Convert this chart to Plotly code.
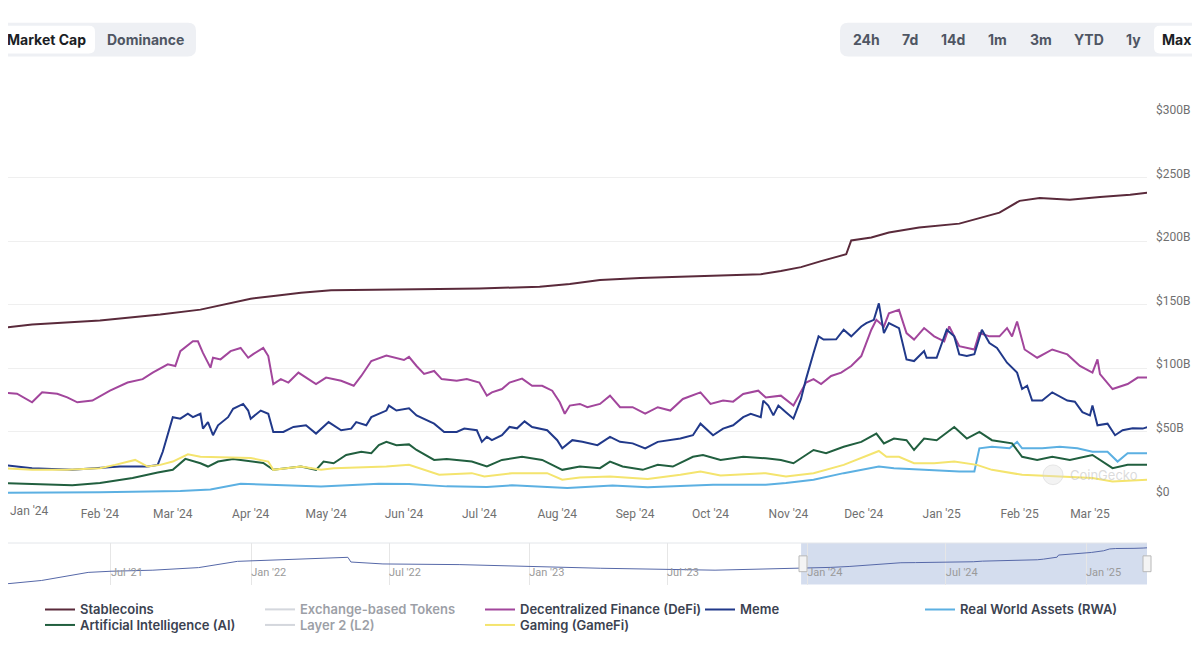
import plotly.graph_objects as go

# ---------------- data ----------------
stable_dates = ["2023-12-24","2024-01-05","2024-02-01","2024-02-25","2024-03-12","2024-03-28","2024-04-01","2024-04-11","2024-04-21","2024-05-03","2024-05-22","2024-06-15","2024-07-01","2024-07-25","2024-08-06","2024-08-18","2024-09-03","2024-09-27","2024-10-21","2024-10-29","2024-11-06","2024-11-14","2024-11-24","2024-11-26","2024-12-04","2024-12-11","2024-12-23","2025-01-08","2025-01-24","2025-02-01","2025-02-09","2025-02-21","2025-03-05","2025-03-17","2025-03-24"]
stable_vals = [131.6,134.5,137.6,142.2,146.1,153.1,154.7,157.0,159.3,161.3,162.0,162.4,162.8,164.0,166.3,169.4,171.0,172.5,174.0,176.4,179.5,184.2,189.6,200.5,202.8,206.7,210.6,213.7,222.3,231.6,233.9,232.4,234.7,236.3,238.0]

defi_dates = ["2023-12-24","2023-12-30","2024-01-05","2024-01-09","2024-01-15","2024-01-19","2024-01-23","2024-01-29","2024-02-05","2024-02-12","2024-02-18","2024-02-22","2024-02-28","2024-03-02","2024-03-04","2024-03-09","2024-03-11","2024-03-13","2024-03-16","2024-03-17","2024-03-20","2024-03-24","2024-03-28","2024-03-31","2024-04-02","2024-04-06","2024-04-08","2024-04-10","2024-04-13","2024-04-16","2024-04-20","2024-04-23","2024-04-27","2024-05-01","2024-05-07","2024-05-12","2024-05-15","2024-05-19","2024-05-25","2024-06-01","2024-06-03","2024-06-06","2024-06-09","2024-06-13","2024-06-16","2024-06-22","2024-06-26","2024-07-01","2024-07-03","2024-07-04","2024-07-06","2024-07-10","2024-07-13","2024-07-18","2024-07-22","2024-07-26","2024-07-30","2024-08-02","2024-08-04","2024-08-06","2024-08-10","2024-08-13","2024-08-18","2024-08-22","2024-08-26","2024-08-31","2024-09-05","2024-09-10","2024-09-15","2024-09-20","2024-09-27","2024-10-01","2024-10-06","2024-10-10","2024-10-14","2024-10-20","2024-10-23","2024-10-29","2024-11-03","2024-11-06","2024-11-08","2024-11-11","2024-11-14","2024-11-18","2024-11-22","2024-11-26","2024-11-30","2024-12-04","2024-12-06","2024-12-09","2024-12-11","2024-12-15","2024-12-18","2024-12-21","2024-12-25","2024-12-29","2025-01-02","2025-01-04","2025-01-08","2025-01-14","2025-01-16","2025-01-20","2025-01-24","2025-01-27","2025-01-29","2025-01-31","2025-02-03","2025-02-08","2025-02-14","2025-02-20","2025-02-25","2025-03-02","2025-03-04","2025-03-05","2025-03-10","2025-03-16","2025-03-20","2025-03-24"]
defi_vals = [81.1,80.0,73.3,81.1,80.0,77.2,73.3,74.6,82.4,88.8,91.5,96.6,103.1,101.8,113.5,121.2,121.2,112.1,100.5,108.3,107.0,113.5,116.0,108.3,111.1,116.0,109.6,87.6,91.5,88.8,96.6,92.7,87.6,92.7,90.2,86.3,94.0,105.7,110.0,106.5,109.0,101.8,95.6,97.9,91.5,90.2,91.5,88.8,81.1,78.5,81.1,83.7,88.8,91.9,86.3,86.3,82.4,73.3,64.3,70.7,72.0,69.4,72.0,78.5,69.4,69.4,64.3,69.4,66.8,75.9,81.1,72.0,74.6,73.8,79.8,82.4,77.0,78.5,70.7,81.1,88.8,91.5,87.6,94.0,96.6,101.8,109.6,130.3,138.1,132.9,143.2,145.9,127.7,122.6,131.6,125.1,121.2,132.9,117.4,114.8,127.7,125.1,125.1,131.6,125.1,136.8,114.8,108.3,114.8,110.9,101.8,96.6,107.0,95.4,83.7,87.6,92.7,92.7]

meme_dates = ["2023-12-24","2023-12-31","2024-01-05","2024-01-21","2024-02-01","2024-02-09","2024-02-20","2024-02-24","2024-02-26","2024-02-28","2024-03-01","2024-03-04","2024-03-07","2024-03-09","2024-03-12","2024-03-13","2024-03-15","2024-03-17","2024-03-19","2024-03-23","2024-03-25","2024-03-29","2024-03-31","2024-04-01","2024-04-05","2024-04-08","2024-04-10","2024-04-14","2024-04-18","2024-04-23","2024-04-27","2024-05-02","2024-05-07","2024-05-11","2024-05-13","2024-05-17","2024-05-19","2024-05-25","2024-05-26","2024-05-29","2024-06-03","2024-06-06","2024-06-10","2024-06-13","2024-06-17","2024-06-22","2024-06-25","2024-06-30","2024-07-02","2024-07-04","2024-07-06","2024-07-10","2024-07-13","2024-07-16","2024-07-19","2024-07-22","2024-07-28","2024-08-01","2024-08-03","2024-08-07","2024-08-11","2024-08-17","2024-08-22","2024-08-26","2024-08-31","2024-09-05","2024-09-10","2024-09-14","2024-09-19","2024-09-24","2024-09-27","2024-10-02","2024-10-06","2024-10-10","2024-10-14","2024-10-17","2024-10-21","2024-10-22","2024-10-24","2024-10-26","2024-10-28","2024-10-31","2024-11-03","2024-11-06","2024-11-08","2024-11-11","2024-11-13","2024-11-15","2024-11-20","2024-11-23","2024-11-26","2024-11-30","2024-12-02","2024-12-05","2024-12-07","2024-12-09","2024-12-11","2024-12-15","2024-12-18","2024-12-21","2024-12-25","2024-12-26","2024-12-30","2025-01-03","2025-01-06","2025-01-08","2025-01-11","2025-01-14","2025-01-17","2025-01-20","2025-01-23","2025-01-27","2025-01-31","2025-02-02","2025-02-04","2025-02-06","2025-02-10","2025-02-14","2025-02-20","2025-02-23","2025-02-26","2025-03-01","2025-03-02","2025-03-04","2025-03-08","2025-03-11","2025-03-14","2025-03-18","2025-03-22","2025-03-24"]
meme_vals = [24.1,22.8,21.5,20.2,21.5,22.8,22.8,24.1,34.4,47.4,61.6,60.4,64.3,61.6,64.3,52.6,57.7,47.4,55.2,61.6,68.2,72.0,66.8,60.4,66.8,64.3,50.0,50.0,53.9,55.2,48.7,57.7,51.3,52.6,57.7,55.2,61.6,66.8,70.7,66.8,68.6,63.0,59.1,56.5,50.0,50.0,52.6,51.3,42.2,46.1,43.5,47.4,53.9,52.8,58.3,53.9,51.3,43.5,37.1,43.5,42.2,39.6,46.1,42.2,41.0,37.1,42.2,43.5,44.8,47.4,56.5,47.4,52.6,55.2,61.6,64.3,61.6,74.6,70.7,63.0,70.7,65.5,60.4,75.9,91.5,112.1,125.1,122.6,122.8,130.3,125.1,132.9,135.5,138.1,151.0,127.7,135.5,131.6,107.0,105.7,113.5,108.3,108.3,130.3,125.1,110.9,109.6,111.1,130.3,119.9,116.0,104.4,96.6,83.7,86.3,74.6,74.6,81.1,74.6,73.8,65.5,63.0,70.7,55.2,56.5,47.4,51.3,52.8,52.6,53.9]

rwa_dates = ["2023-12-25","2024-02-01","2024-03-04","2024-03-16","2024-03-28","2024-04-08","2024-04-29","2024-05-22","2024-06-03","2024-06-18","2024-07-04","2024-07-14","2024-08-05","2024-08-23","2024-09-06","2024-10-02","2024-10-23","2024-10-31","2024-11-11","2024-11-23","2024-12-04","2024-12-07","2024-12-13","2024-12-26","2025-01-08","2025-01-14","2025-01-16","2025-01-21","2025-01-28","2025-01-31","2025-02-02","2025-02-10","2025-02-17","2025-02-24","2025-03-02","2025-03-08","2025-03-12","2025-03-16","2025-03-24"]
rwa_vals = [2.1,2.5,3.5,4.7,9.3,8.5,7.2,9.3,9.1,7.2,6.8,8.0,6.0,7.8,6.5,8.5,8.5,9.9,12.4,17.6,22.0,22.8,21.5,20.2,18.9,18.9,37.1,38.3,37.1,42.2,37.1,37.1,38.3,37.1,34.4,34.4,26.7,33.2,33.2]

ai_dates = ["2023-12-23","2024-01-05","2024-01-21","2024-02-01","2024-02-14","2024-02-24","2024-03-01","2024-03-06","2024-03-12","2024-03-15","2024-03-19","2024-03-25","2024-04-02","2024-04-06","2024-04-10","2024-04-15","2024-04-21","2024-04-27","2024-04-30","2024-05-04","2024-05-09","2024-05-15","2024-05-19","2024-05-22","2024-05-25","2024-05-29","2024-06-03","2024-06-06","2024-06-13","2024-06-18","2024-06-28","2024-07-04","2024-07-10","2024-07-18","2024-07-26","2024-08-03","2024-08-10","2024-08-18","2024-08-22","2024-08-27","2024-09-04","2024-09-10","2024-09-16","2024-09-24","2024-09-28","2024-10-05","2024-10-14","2024-10-23","2024-10-29","2024-11-03","2024-11-11","2024-11-16","2024-11-23","2024-11-30","2024-12-06","2024-12-09","2024-12-13","2024-12-18","2024-12-21","2024-12-25","2024-12-30","2025-01-06","2025-01-11","2025-01-16","2025-01-21","2025-01-29","2025-02-02","2025-02-08","2025-02-14","2025-02-21","2025-03-02","2025-03-10","2025-03-16","2025-03-24"]
ai_vals = [9.9,9.1,8.0,9.9,13.8,18.1,20.2,28.8,25.4,22.8,26.7,28.8,26.7,25.6,20.2,21.5,22.8,20.2,26.7,25.4,31.9,34.4,33.2,39.6,42.2,39.6,40.2,35.8,28.0,28.8,26.7,22.8,28.0,30.5,28.0,20.2,22.8,21.5,26.7,22.8,20.2,24.1,22.8,30.5,31.9,28.0,30.5,29.3,28.0,25.4,35.8,33.2,38.3,42.2,48.7,41.0,44.8,43.5,35.8,44.8,43.5,53.9,44.8,50.0,43.5,41.0,30.5,28.0,30.5,28.0,31.9,21.5,24.1,24.1]

gaming_dates = ["2023-12-23","2024-01-05","2024-01-19","2024-02-01","2024-02-07","2024-02-15","2024-02-20","2024-02-25","2024-03-01","2024-03-07","2024-03-12","2024-03-23","2024-04-01","2024-04-08","2024-04-10","2024-04-21","2024-04-29","2024-05-04","2024-05-17","2024-05-25","2024-06-03","2024-06-15","2024-06-28","2024-07-03","2024-07-14","2024-07-28","2024-08-03","2024-08-10","2024-08-22","2024-09-06","2024-09-19","2024-09-27","2024-10-05","2024-10-23","2024-10-31","2024-11-11","2024-11-23","2024-11-30","2024-12-07","2024-12-10","2024-12-15","2024-12-21","2024-12-29","2025-01-06","2025-01-15","2025-01-21","2025-02-02","2025-02-17","2025-03-02","2025-03-10","2025-03-24"]
gaming_vals = [21.5,20.2,20.2,21.5,24.1,28.0,22.8,24.1,26.7,32.4,30.5,29.8,29.5,26.7,20.2,22.8,20.2,21.5,22.0,22.8,24.1,16.3,17.6,15.0,17.6,17.6,12.4,14.2,15.0,13.0,16.3,18.9,15.8,17.6,15.0,17.6,24.1,29.3,35.0,30.5,30.5,25.4,25.4,26.7,24.1,20.2,16.3,15.0,13.8,11.1,12.4]

# navigator: stablecoin history before the main window
nav_dates = ["2021-02-10","2021-04-01","2021-06-01","2021-07-01","2021-08-25","2021-10-24","2021-12-14","2022-01-23","2022-03-04","2022-05-08","2022-05-12","2022-06-23","2022-10-02","2023-01-10","2023-04-05","2023-09-02","2023-12-12"]
nav_vals = [52.2,70.8,112.0,117.9,123.3,136.5,168.4,174.2,183.0,188.9,164.9,155.1,151.7,140.4,133.1,123.3,131.0]

y_tickvals = [0, 50, 100, 150, 200, 250, 300]
y_ticktext = ["$0", "$50B", "$100B", "$150B", "$200B", "$250B", "$300B"]
x_first_label = "Jan '24"

left_buttons = ["Market Cap", "Dominance"]
right_buttons = ["24h", "7d", "14d", "1m", "3m", "YTD", "1y", "Max"]

# ---------------- layout helpers ----------------
# the page body adds an 8px offset; the figure occupies screen (8..1192, 8..640)
OFF = 8
W, H = 1184, 632
ML, MR = 0, 45


def px(x):
    return (x - OFF - ML) / (W - ML - MR)


def py(y):
    return (H - (y - OFF)) / H


def rrect(x0, y0, x1, y1, r):
    return (f"M {px(x0 + r)},{py(y0)} L {px(x1 - r)},{py(y0)} "
            f"Q {px(x1)},{py(y0)} {px(x1)},{py(y0 + r)} L {px(x1)},{py(y1 - r)} "
            f"Q {px(x1)},{py(y1)} {px(x1 - r)},{py(y1)} L {px(x0 + r)},{py(y1)} "
            f"Q {px(x0)},{py(y1)} {px(x0)},{py(y1 - r)} L {px(x0)},{py(y0 + r)} "
            f"Q {px(x0)},{py(y0)} {px(x0 + r)},{py(y0)} Z")


C_STABLE = "#5a2a3b"
C_DEFI = "#a2469c"
C_MEME = "#21398a"
C_RWA = "#5cb0e2"
C_AI = "#215f3f"
C_GAME = "#f4e46e"
C_HIDDEN = "#aab1bc"

fig = go.Figure()


def add_line(name, xs, ys, color, legend, visible=True):
    fig.add_trace(go.Scatter(x=xs, y=ys, name=name, mode="lines",
                             line=dict(color=color, width=2),
                             visible=visible, xaxis="x", yaxis="y",
                             legend=legend, hoverinfo="skip"))


# legend row 1
add_line("Stablecoins", stable_dates, stable_vals, C_STABLE, "legend")
add_line("Exchange-based Tokens", [stable_dates[0]], [None], C_HIDDEN, "legend", "legendonly")
add_line("Decentralized Finance (DeFi)", defi_dates, defi_vals, C_DEFI, "legend")
add_line("Meme", meme_dates, meme_vals, C_MEME, "legend")
add_line("Real World Assets (RWA)", rwa_dates, rwa_vals, C_RWA, "legend")
# legend row 2
add_line("Artificial Intelligence (AI)", ai_dates, ai_vals, C_AI, "legend2")
add_line("Layer 2 (L2)", [stable_dates[0]], [None], C_HIDDEN, "legend2", "legendonly")
add_line("Gaming (GameFi)", gaming_dates, gaming_vals, C_GAME, "legend2")

# navigator series
fig.add_trace(go.Scatter(x=nav_dates + stable_dates, y=nav_vals + stable_vals,
                         mode="lines", line=dict(color="#5668a8", width=1),
                         xaxis="x2", yaxis="y2", showlegend=False, hoverinfo="skip"))

shapes = []
# button groups
shapes.append(dict(type="path", xref="paper", yref="paper", path=rrect(0, 23, 196, 57, 8),
                   fillcolor="#eef0f4", line=dict(width=0), layer="below"))
shapes.append(dict(type="path", xref="paper", yref="paper", path=rrect(0, 26, 95, 54, 6),
                   fillcolor="#ffffff", line=dict(width=0), layer="below"))
shapes.append(dict(type="path", xref="paper", yref="paper", path=rrect(840, 23, 1210, 57, 8),
                   fillcolor="#eef0f4", line=dict(width=0), layer="below"))
shapes.append(dict(type="path", xref="paper", yref="paper", path=rrect(1154, 26, 1210, 54, 6),
                   fillcolor="#ffffff", line=dict(width=0), layer="below"))
# navigator selection and frame
shapes.append(dict(type="rect", xref="x2", yref="paper", x0="2023-12-24", x1="2025-03-24",
                   y0=py(591), y1=py(549), fillcolor="rgba(102,133,194,0.28)",
                   line=dict(width=0), layer="below"))
shapes.append(dict(type="line", xref="paper", yref="paper", x0=px(8), x1=px(1147),
                   y0=py(549), y1=py(549), line=dict(color="#e3e6ea", width=1)))
for hx in [803, 1147]:
    shapes.append(dict(type="rect", xref="paper", yref="paper", x0=px(hx - 4), x1=px(hx + 4),
                       y0=py(578), y1=py(562), fillcolor="#f4f4f4",
                       line=dict(color="#b8b8b8", width=1)))
# watermark logo
shapes.append(dict(type="circle", xref="paper", yref="paper", x0=px(1043), x1=px(1063),
                   y0=py(490), y1=py(470), fillcolor="rgba(220,220,220,0.35)",
                   line=dict(color="rgba(210,210,210,0.5)", width=1)))

annotations = []
btn_font = "Inter, Noto Sans, sans-serif"


def btn(text, cx, color):
    return dict(text=f"<b>{text}</b>", x=px(cx), y=py(40), xref="paper", yref="paper",
                xanchor="center", yanchor="middle", showarrow=False,
                font=dict(family=btn_font, size=14, color=color))


annotations.append(btn("Market Cap", 46, "#1b1e24"))
annotations.append(btn("Dominance", 145, "#4f5663"))
for lbl, cx in zip(right_buttons, [866, 910, 953, 997, 1041, 1089, 1133, 1177]):
    annotations.append(btn(lbl, cx, "#1b1e24" if lbl == "Max" else "#4f5663"))
annotations.append(dict(text="CoinGecko", x=px(1068), y=py(480), xref="paper", yref="paper",
                        xanchor="left", yanchor="middle", showarrow=False,
                        font=dict(family="Inter, sans-serif", size=13, color="rgba(195,195,195,0.6)")))
# first month label sits at the left edge (the axis would hide it as overflowing)
annotations.append(dict(text=x_first_label, x=px(8), y=py(517), xref="paper", yref="paper",
                        xanchor="left", yanchor="middle", showarrow=False,
                        font=dict(family="Roboto, sans-serif", size=12, color="#707070")))

legend_common = dict(orientation="h", xanchor="left", yanchor="top",
                     entrywidth=175, entrywidthmode="pixels",
                     font=dict(family=btn_font, size=13, color="#3b4250", weight=600),
                     bgcolor="rgba(0,0,0,0)", itemclick=False, itemdoubleclick=False)

fig.update_layout(
    width=W, height=H,
    margin=dict(l=ML, r=MR, t=0, b=0),
    paper_bgcolor="white", plot_bgcolor="white",
    showlegend=True,
    legend=dict(x=px(40), y=py(601), **legend_common),
    legend2=dict(x=px(40), y=py(617), **legend_common),
    xaxis=dict(domain=[0, 1], anchor="y", type="date",
               range=["2023-12-26 10:00", "2025-03-23 17:00"],
               dtick="M1", tick0="2024-01-01", tickformat="%b '%y",
               showgrid=False, zeroline=False, showline=False, ticks="",
               tickfont=dict(family="Roboto, sans-serif", size=12, color="#707070"),
               ticklabelstandoff=9, automargin=False),
    yaxis=dict(domain=[py(501), py(115)], anchor="x", side="right",
               range=[0, 300], tickvals=y_tickvals, ticktext=y_ticktext,
               showgrid=True, gridcolor="#efefef", gridwidth=1, zeroline=False,
               showline=False, ticks="",
               tickfont=dict(family="Roboto, sans-serif", size=12, color="#707070"),
               ticklabelstandoff=8, ticklabelshift=-4, automargin=False),
    xaxis2=dict(domain=[0, 1], anchor="y2", type="date",
                range=["2021-02-15 19:00", "2025-03-22 02:00"],
                dtick="M6", tick0="2021-01-01", tickformat="%b '%y",
                showgrid=True, gridcolor="#e6e6e6", zeroline=False, showline=False,
                ticks="", ticklabelposition="inside right",
                tickfont=dict(family="Roboto, sans-serif", size=11, color="#9a9a9a"),
                automargin=False),
    yaxis2=dict(domain=[py(591), py(549)], anchor="x2", range=[50, 262],
                showgrid=False, showticklabels=False, zeroline=False, showline=False,
                automargin=False),
    shapes=shapes,
    annotations=annotations,
)

fig.write_html("out.html")
